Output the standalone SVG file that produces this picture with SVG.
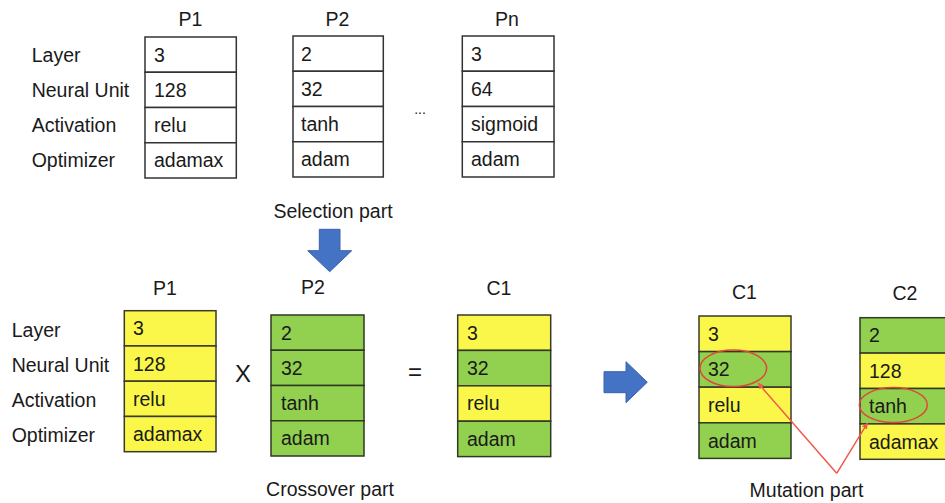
<svg xmlns="http://www.w3.org/2000/svg" width="945" height="503" viewBox="0 0 945 503">
<defs>
<style>
text{font-family:"Liberation Sans",Arial,sans-serif;font-size:19.5px;fill:#1a1a1a}
.hd{text-anchor:middle}
.w{fill:#ffffff;stroke:#333;stroke-width:1.5}
.y{fill:#FBF74A;stroke:#3a3a2a;stroke-width:1.5}
.g{fill:#92D050;stroke:#2e3a22;stroke-width:1.5}
.ring{fill:none;stroke:#E0473A;stroke-width:1.5}
.arrowb{fill:#4472C4;stroke:#3A62AA;stroke-width:1}
.red{stroke:#F05A4A;stroke-width:1.5;fill:none}
</style>
<marker id="ah" viewBox="0 0 10 10" refX="9" refY="5" markerWidth="6" markerHeight="6" orient="auto" markerUnits="userSpaceOnUse">
<path d="M0,0 L10,5 L0,10 z" fill="#F05A4A"/>
</marker>
</defs>

<g id="top-labels">
<text x="31.7" y="61.7">Layer</text>
<text x="31.7" y="96.7">Neural Unit</text>
<text x="31.7" y="132.3">Activation</text>
<text x="31.7" y="166.7">Optimizer</text>
</g>

<g id="top-P1">
<text class="hd" x="190.5" y="26">P1</text>
<rect class="w" x="145" y="37" width="91.3" height="35.25"/>
<rect class="w" x="145" y="72.25" width="91.3" height="35.25"/>
<rect class="w" x="145" y="107.5" width="91.3" height="35.25"/>
<rect class="w" x="145" y="142.75" width="91.3" height="35.25"/>
<text x="154" y="61.7">3</text>
<text x="154" y="96.7">128</text>
<text x="154" y="132.3">relu</text>
<text x="154" y="166.7">adamax</text>
</g>

<g id="top-P2">
<text class="hd" x="337.5" y="26">P2</text>
<rect class="w" x="293" y="36" width="90.3" height="35.25"/>
<rect class="w" x="293" y="71.25" width="90.3" height="35.25"/>
<rect class="w" x="293" y="106.5" width="90.3" height="35.25"/>
<rect class="w" x="293" y="141.75" width="90.3" height="35.25"/>
<text x="301" y="60.7">2</text>
<text x="301" y="95.7">32</text>
<text x="301" y="131.3">tanh</text>
<text x="301" y="165.7">adam</text>
</g>

<text x="420" y="114" class="hd" style="font-size:14px">...</text>

<g id="top-Pn">
<text class="hd" x="507" y="26">Pn</text>
<rect class="w" x="462.3" y="36" width="91.7" height="35.25"/>
<rect class="w" x="462.3" y="71.25" width="91.7" height="35.25"/>
<rect class="w" x="462.3" y="106.5" width="91.7" height="35.25"/>
<rect class="w" x="462.3" y="141.75" width="91.7" height="35.25"/>
<text x="471" y="60.7">3</text>
<text x="471" y="95.7">64</text>
<text x="471" y="131.3">sigmoid</text>
<text x="471" y="165.7">adam</text>
</g>

<g id="selection">
<text class="hd" x="333" y="218">Selection part</text>
<polygon class="arrowb" points="319.3,229.3 340,229.3 340,250.7 351.7,250.7 329.7,271.7 307.7,250.7 319.3,250.7"/>
</g>

<g id="bottom-labels">
<text x="11.7" y="336.7">Layer</text>
<text x="11.7" y="371.7">Neural Unit</text>
<text x="11.7" y="407.3">Activation</text>
<text x="11.7" y="441.7">Optimizer</text>
</g>

<g id="bot-P1">
<text class="hd" x="165" y="295">P1</text>
<rect class="y" x="124.3" y="310.7" width="91.7" height="35.25"/>
<rect class="y" x="124.3" y="345.95" width="91.7" height="35.25"/>
<rect class="y" x="124.3" y="381.2" width="91.7" height="35.25"/>
<rect class="y" x="124.3" y="416.45" width="91.7" height="35.25"/>
<text x="133" y="335.3">3</text>
<text x="133" y="370.6">128</text>
<text x="133" y="405.8">relu</text>
<text x="133" y="441">adamax</text>
</g>

<text class="hd" x="243" y="382" style="font-size:24px">X</text>

<g id="bot-P2">
<text class="hd" x="313" y="294">P2</text>
<rect class="g" x="271" y="315" width="93" height="35.25"/>
<rect class="g" x="271" y="350.25" width="93" height="35.25"/>
<rect class="g" x="271" y="385.5" width="93" height="35.25"/>
<rect class="g" x="271" y="420.75" width="93" height="35.25"/>
<text x="281" y="339.6">2</text>
<text x="281" y="374.9">32</text>
<text x="281" y="410.1">tanh</text>
<text x="281" y="445.4">adam</text>
</g>

<text class="hd" x="330" y="496">Crossover part</text>

<text class="hd" x="415" y="380" style="font-size:24px">=</text>

<g id="mid-C1">
<text class="hd" x="499" y="295">C1</text>
<rect class="y" x="457.7" y="315" width="93" height="35.4"/>
<rect class="g" x="457.7" y="350.4" width="93" height="35.4"/>
<rect class="y" x="457.7" y="385.8" width="93" height="35.4"/>
<rect class="g" x="457.7" y="421.2" width="93" height="35.4"/>
<text x="467" y="339.6">3</text>
<text x="467" y="375">32</text>
<text x="467" y="410.4">relu</text>
<text x="467" y="445.8">adam</text>
</g>

<g id="right-arrow">
<polygon class="arrowb" points="604,371.7 626,371.7 626,361.7 647.3,382.2 626,402.7 626,392.7 604,392.7"/>
</g>

<g id="right-C1">
<text class="hd" x="744.5" y="299">C1</text>
<rect class="y" x="699" y="316" width="92" height="35.6"/>
<rect class="g" x="699" y="351.6" width="92" height="35.6"/>
<rect class="y" x="699" y="387.2" width="92" height="35.6"/>
<rect class="g" x="699" y="422.8" width="92" height="35.6"/>
<text x="708" y="340.8">3</text>
<text x="708" y="376.4">32</text>
<text x="708" y="412">relu</text>
<text x="708" y="447.6">adam</text>
<ellipse class="ring" cx="733.3" cy="368.3" rx="33.3" ry="18.3"/>
</g>

<g id="right-C2">
<text class="hd" x="905" y="300">C2</text>
<rect class="g" x="860" y="317.7" width="95" height="35.4"/>
<rect class="y" x="860" y="353.1" width="95" height="35.4"/>
<rect class="g" x="860" y="388.5" width="95" height="35.4"/>
<rect class="y" x="860" y="423.9" width="95" height="35.4"/>
<text x="869" y="342.3">2</text>
<text x="869" y="377.7">128</text>
<text x="869" y="413.1">tanh</text>
<text x="869" y="448.5">adamax</text>
<ellipse class="ring" cx="893.3" cy="405" rx="34" ry="17.5"/>
</g>

<g id="connectors">
<line class="red" x1="836.7" y1="473.3" x2="758.3" y2="383.3" marker-end="url(#ah)"/>
<line class="red" x1="836.7" y1="473.3" x2="867.3" y2="423.3" marker-end="url(#ah)"/>
</g>

<text class="hd" x="806.5" y="496.7">Mutation part</text>
</svg>
